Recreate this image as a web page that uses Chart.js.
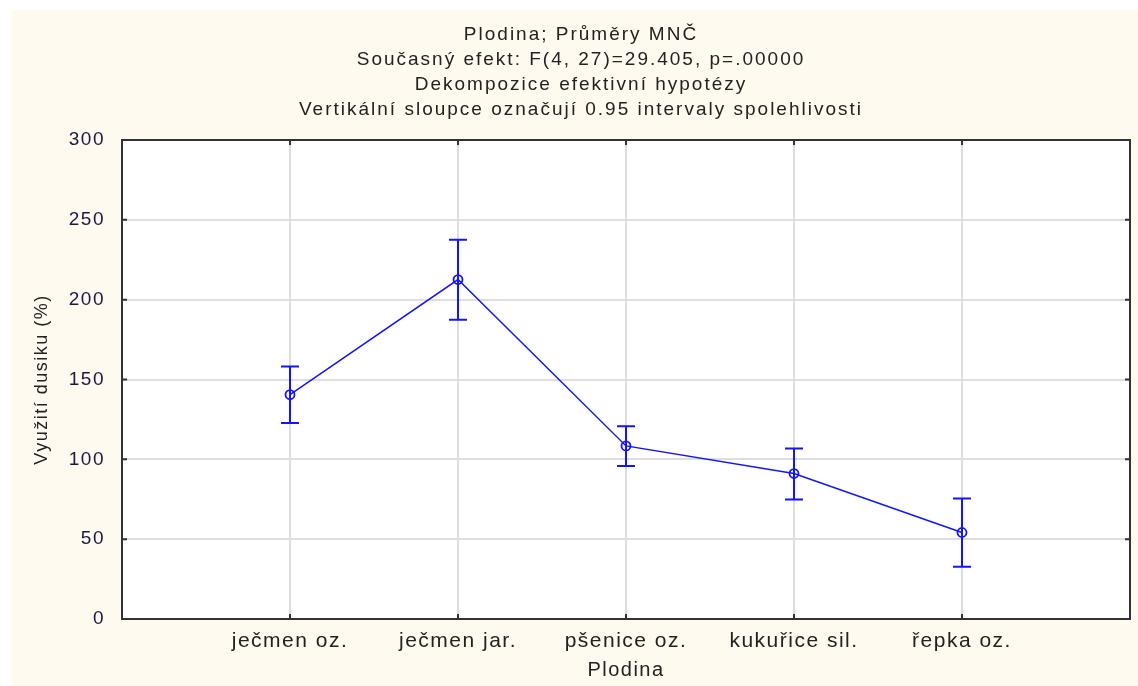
<!DOCTYPE html>
<html>
<head>
<meta charset="utf-8">
<script src="https://cdn.jsdelivr.net/npm/chart.js@4"></script>
<style>
  body { margin: 0; background: #fff; }
  #wrap { width: 1138px; height: 686px; }
</style>
</head>
<body>
<div id="wrap"><canvas id="chartPlodina" width="1138" height="686"></canvas></div>
<script>
// Plodina – průměry MNČ s 0.95 intervaly spolehlivosti
const plodiny = ["ječmen oz.", "ječmen jar.", "pšenice oz.", "kukuřice sil.", "řepka oz."];
const prumery = [140.5, 212.6, 108.4, 91.1, 54.2];
const horniMez = [158.2, 237.6, 120.7, 106.8, 75.5];
const dolniMez = [122.8, 187.4, 95.9, 74.9, 32.7];
const yTicks = [0, 50, 100, 150, 200, 250, 300];

const nadpis = [
  "Plodina; Průměry MNČ",
  "Současný efekt: F(4, 27)=29.405, p=.00000",
  "Dekompozice efektivní hypotézy",
  "Vertikální sloupce označují 0.95 intervaly spolehlivosti"
];

const FONT = "'Liberation Sans', Arial, sans-serif";
const BLUE = "#1414ff";

// pozadí: krémový rámeček, bílá plocha grafu
const pozadi = {
  id: "pozadi",
  beforeDraw(c) {
    const { ctx, chartArea: a } = c;
    ctx.save();
    ctx.fillStyle = "#fff";
    ctx.fillRect(0, 0, c.width, c.height);
    ctx.fillStyle = "#fffaf0";
    ctx.fillRect(11, 10, c.width - 11, c.height - 10);
    ctx.fillStyle = "#fff";
    ctx.fillRect(a.left, a.top, a.right - a.left, a.bottom - a.top);
    ctx.restore();
    ctx.letterSpacing = "1.5px";
  }
};

// nadpis ve čtyřech řádcích
const titulek = {
  id: "titulek",
  afterDraw(c) {
    const { ctx } = c;
    ctx.save();
    ctx.letterSpacing = "2px";
    ctx.font = "19px " + FONT;
    ctx.fillStyle = "#222";
    ctx.textAlign = "center";
    ctx.textBaseline = "middle";
    nadpis.forEach((t, i) => ctx.fillText(t, 581, 35 + i * 25));
    ctx.restore();
  }
};

// rámeček a dovnitř směřující značky
const ramecek = {
  id: "ramecek",
  afterDatasetsDraw(c) {
    const { ctx, chartArea: a, scales: { x, y } } = c;
    ctx.save();
    ctx.strokeStyle = "#333";
    ctx.lineWidth = 2;
    ctx.strokeRect(a.left, a.top, a.right - a.left, a.bottom - a.top);
    ctx.beginPath();
    yTicks.forEach(v => {
      const py = y.getPixelForValue(v);
      ctx.moveTo(a.left, py); ctx.lineTo(a.left + 5, py);
      ctx.moveTo(a.right, py); ctx.lineTo(a.right - 5, py);
    });
    plodiny.forEach((_, i) => {
      const px = x.getPixelForValue(i + 1);
      ctx.moveTo(px, a.top); ctx.lineTo(px, a.top + 5);
      ctx.moveTo(px, a.bottom); ctx.lineTo(px, a.bottom - 5);
    });
    ctx.stroke();
    ctx.restore();
  }
};

// svislé intervaly spolehlivosti
const intervaly = {
  id: "intervaly",
  afterDatasetsDraw(c) {
    const { ctx, scales: { x, y } } = c;
    ctx.save();
    ctx.strokeStyle = BLUE;
    ctx.lineWidth = 2;
    ctx.beginPath();
    plodiny.forEach((_, i) => {
      const px = x.getPixelForValue(i + 1);
      const hi = y.getPixelForValue(horniMez[i]);
      const lo = y.getPixelForValue(dolniMez[i]);
      ctx.moveTo(px, hi); ctx.lineTo(px, lo);
      ctx.moveTo(px - 9, hi); ctx.lineTo(px + 9, hi);
      ctx.moveTo(px - 9, lo); ctx.lineTo(px + 9, lo);
    });
    ctx.stroke();
    ctx.restore();
  }
};

new Chart(document.getElementById("chartPlodina"), {
  type: "line",
  data: {
    datasets: [{
      data: prumery.map((v, i) => ({ x: i + 1, y: v })),
      borderColor: BLUE,
      borderWidth: 1.5,
      pointRadius: 4.5,
      pointBorderWidth: 1.8,
      pointBackgroundColor: "rgba(0,0,0,0)",
      pointBorderColor: BLUE,
      tension: 0
    }]
  },
  options: {
    responsive: false,
    animation: false,
    layout: { padding: { top: 140, right: 8, left: 0, bottom: 0 } },
    plugins: { legend: { display: false }, tooltip: { enabled: false }, title: { display: false } },
    scales: {
      x: {
        type: "linear",
        min: 0,
        max: 6,
        afterFit: s => { s.height = 67; },
        afterBuildTicks: s => { s.ticks = plodiny.map((_, i) => ({ value: i + 1 })); },
        ticks: {
          autoSkip: false,
          maxRotation: 0,
          padding: 10,
          color: "#222",
          font: { family: FONT, size: 21 },
          callback: v => plodiny[v - 1] ?? ""
        },
        grid: { color: "#dedede", lineWidth: 2, drawTicks: false },
        border: { display: false },
        title: {
          display: true,
          text: "Plodina",
          color: "#222",
          font: { family: FONT, size: 20 },
          padding: { top: 0, bottom: 4 }
        }
      },
      y: {
        min: 0,
        max: 300,
        afterFit: s => { s.width = 122; },
        afterBuildTicks: s => { s.ticks = yTicks.map(v => ({ value: v })); },
        ticks: {
          padding: 17,
          color: "#1a1a40",
          font: { family: FONT, size: 19 }
        },
        grid: { color: "#dedede", lineWidth: 2, drawTicks: false },
        border: { display: false },
        title: {
          display: true,
          text: "Využití dusiku (%)",
          color: "#222",
          font: { family: FONT, size: 18 },
          padding: { top: 31, bottom: 0 }
        }
      }
    }
  },
  plugins: [pozadi, intervaly, ramecek, titulek]
});
</script>
</body>
</html>
